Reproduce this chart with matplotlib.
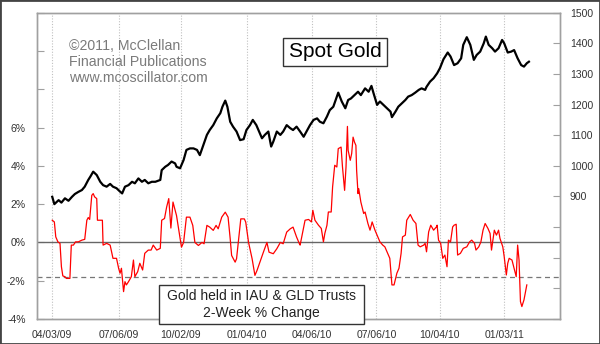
import numpy as np
import matplotlib
matplotlib.use('Agg')
import matplotlib.pyplot as plt
import matplotlib.dates as mdates
from matplotlib.patches import Rectangle
from matplotlib.ticker import FuncFormatter, MultipleLocator

plt.rcParams['font.family'] = ['Liberation Sans', 'DejaVu Sans']

start = np.datetime64('2009-04-03')

gold_days = [0, 3, 9, 13, 18, 23, 28, 32, 37, 42, 46, 51, 54, 58, 63, 68, 72, 77, 82, 86,
             91, 96, 99, 103, 108, 113, 117, 122, 127, 131, 136, 141, 146, 153, 155, 160, 164, 169, 174,
             176, 181, 186, 190, 195, 200, 205, 209, 214, 219, 223, 228, 233, 238, 241, 245, 248, 252,
             256, 261, 266, 271, 275, 280, 284, 289, 292, 297, 301, 306, 310, 313, 318, 323, 327, 332,
             337, 341, 346, 351, 356, 360, 365, 370, 375, 379, 384, 389, 393, 398, 403, 405, 410, 415,
             419, 423, 428, 433, 437, 443, 448, 452, 455, 460, 464, 469, 474, 479, 481, 486, 490, 495,
             500, 504, 509, 514, 519, 523, 528, 530, 535, 540, 545, 549, 554, 560, 564, 569, 574, 579,
             582, 587, 592, 597, 601, 606, 611, 614, 618, 623, 627, 632, 637, 640, 645, 650, 654, 659,
             664, 668, 672, 675]
gold_price = [899, 875, 888, 880, 894, 886, 899, 908, 915, 921, 932, 954, 965, 981, 970, 948, 937, 932, 941, 932,
              927, 916, 910, 932, 937, 948, 943, 959, 948, 954, 943, 948, 948, 954, 986, 997, 1003, 1014, 1008,
              997, 992, 1019, 1052, 1057, 1057, 1052, 1035, 1068, 1101, 1117, 1133, 1155, 1172, 1193, 1213, 1193, 1144,
              1128, 1112, 1084, 1087, 1117, 1133, 1150, 1133, 1117, 1090, 1101, 1112, 1063, 1079, 1112, 1101, 1112, 1133,
              1123, 1117, 1128, 1112, 1095, 1112, 1133, 1150, 1155, 1144, 1139, 1161, 1182, 1193, 1226, 1239, 1210, 1188,
              1215, 1220, 1231, 1242, 1231, 1253, 1242, 1261, 1237, 1199, 1210, 1199, 1188, 1177, 1159, 1177, 1193, 1204,
              1215, 1226, 1231, 1239, 1248, 1253, 1248, 1258, 1275, 1286, 1302, 1319, 1348, 1370, 1357, 1329, 1335, 1351,
              1395, 1420, 1395, 1346, 1362, 1373, 1400, 1422, 1395, 1384, 1373, 1384, 1411, 1400, 1370, 1373, 1378, 1351,
              1329, 1324, 1335, 1340]

flow_days = [0, 3, 5, 8, 11, 13, 15, 18, 20, 25, 27, 30, 33, 37, 42, 46, 49, 51, 53, 56,
             58, 60, 63, 64, 71, 72, 77, 82, 84, 86, 91, 94, 96, 98, 101, 103, 105, 108, 112, 115,
             117, 121, 124, 128, 131, 136, 140, 143, 148, 153, 155, 159, 162, 165, 168, 171, 176, 183, 186, 190,
             195, 199, 202, 207, 212, 215, 219, 223, 228, 232, 235, 240, 245, 249, 252, 254, 259, 261, 264, 267,
             272, 274, 278, 283, 287, 290, 294, 299, 304, 307, 313, 318, 323, 327, 332, 337, 341, 346, 350, 351,
             358, 363, 367, 369, 372, 377, 381, 384, 386, 389, 391, 395, 397, 400, 403, 405, 409, 411, 414, 416,
             418, 419, 422, 424, 426, 428, 430, 431, 433, 434, 437, 441, 443, 447, 450, 453, 457, 461, 464, 468,
             471, 475, 478, 481, 484, 488, 491, 494, 496, 500, 502, 507, 511, 515, 518, 521, 526, 528, 530, 533,
             536, 540, 544, 545, 547, 550, 553, 556, 559, 561, 564, 567, 569, 572, 574, 578, 582, 587, 591, 594,
             598, 600, 604, 607, 610, 613, 617, 620, 622, 626, 629, 632, 634, 638, 640, 643, 645, 647, 651, 654,
             657, 659, 661, 663, 665, 668, 672]
flow_pct = [1.16, 1.07, 0.29, 0.03, -0.05, -1.27, -1.75, -1.79, -1.88, -1.88, -0.14, -0.14, 0.03, 0.03, 0.12, 0.16, 1.16, 1.30, 1.20, 2.46,
            2.55, 2.38, 2.29, 1.16, 1.16, -0.14, -0.05, -0.14, -0.49, -0.83, -0.83, -1.35, -1.61, -1.35, -2.57, -2.05, -2.22, -2.05, -1.79, -0.92,
            -1.79, -1.53, -1.09, -1.44, -0.57, -0.40, -0.40, -0.14, -0.40, -0.31, 1.16, 1.25, 1.85, 2.29, 0.75, 2.11, 1.40, -0.25, 0.00, 1.32,
            1.32, 0.89, 0.00, -0.16, 0.00, -0.07, 0.89, 0.80, 0.63, 0.89, 0.71, 1.32, 1.58, 1.32, 0.19, -0.68, -1.03, -0.85, 0.19, 1.23,
            1.23, 1.06, 0.00, -0.85, -1.72, -1.46, -1.03, -0.51, 0.00, -0.51, -0.59, -0.33, 0.00, -0.07, 0.54, 0.71, 0.80, 0.28, -0.07, -0.14,
            1.16, 1.20, 1.07, 1.68, 1.16, 0.90, 0.73, 0.03, 0.47, 0.90, 1.59, 1.59, 2.90, 4.03, 3.94, 4.90, 4.98, 3.94, 2.72, 3.94,
            6.06, 4.81, 4.29, 4.64, 5.50, 5.24, 5.07, 3.77, 2.55, 2.81, 2.11, 1.51, 1.59, 0.99, 0.64, 1.07, 0.64, 0.29, 0.03, -0.14,
            -0.23, -0.57, -0.83, -2.22, -2.22, -1.61, -1.35, -0.57, 0.29, 0.38, 1.16, 1.46, 1.16, 0.99, -0.14, -0.23, -0.14, -0.05, -0.49, 0.55,
            0.90, 0.64, 0.81, 0.90, 0.12, -0.05, -0.83, -0.66, -1.27, 0.12, 0.03, 0.81, 0.90, 0.95, -0.66, -0.57, -0.31, -0.23, 0.03, 0.12,
            -0.05, -0.40, -0.23, 0.03, 0.64, 0.99, 0.73, 0.47, -0.40, 0.64, 0.38, 0.64, 0.21, -0.23, -0.75, -1.70, -1.09, -0.83, -0.92, -1.35,
            -1.79, -0.14, -0.92, -3.09, -3.35, -3.00, -2.22]

tick_dates = ['2009-04-03', '2009-07-06', '2009-10-02', '2010-01-04',
              '2010-04-06', '2010-07-06', '2010-10-04', '2011-01-03']
tick_labels = ['04/03/09', '07/06/09', '10/02/09', '01/04/10',
               '04/06/10', '07/06/10', '10/04/10', '01/03/11']
threshold = -1.82

gold_dates = start + np.array(gold_days).astype('timedelta64[D]')
flow_dates = start + np.array(flow_days).astype('timedelta64[D]')
tdates = np.array(tick_dates, dtype='datetime64[D]')

W, H = 600, 344
fig = plt.figure(figsize=(W / 100, H / 100), dpi=100)
L, R, T, B = 36.7, 560, 12.7, 319
ax = fig.add_axes([L / W, (H - B) / H, (R - L) / W, (B - T) / H])
ax2 = ax.twinx()

spine_c = '#a0a0a0'
txt_c = '#333333'

# left axis: percent
ax.plot(flow_dates, flow_pct, color='#ff0000', lw=0.9, zorder=3)
ax.axhline(0, color='#666666', lw=1.0, zorder=2)
ax.axhline(threshold, color='#777777', lw=0.9, ls=(0, (4, 3)), zorder=2)
ax.set_ylim(-4, 12)
ax.yaxis.set_major_locator(MultipleLocator(2))
ax.yaxis.set_major_formatter(FuncFormatter(lambda v, p: f'{int(round(v))}%' if v <= 6.5 else ''))
ax.tick_params(axis='y', direction='in', length=5, color=spine_c, labelsize=7.5, labelcolor=txt_c, pad=8)

xmin = start + np.timedelta64(-22, 'D')
xmax = start + np.timedelta64(719, 'D')
ax.set_xlim(xmin, xmax)
ax.set_xticks(tdates)
ax.set_xticklabels(tick_labels)
ax.tick_params(axis='x', length=0, labelsize=7.5, labelcolor=txt_c, pad=8)
for d in tdates:
    ax.axvline(d, color='#c0c0c0', lw=0.8, ls=(0, (1, 1.5)), zorder=1)

# right axis: gold price
ax2.plot(gold_dates, gold_price, color='black', lw=1.6, zorder=3)
ax2.set_ylim(500, 1500)
ax2.yaxis.set_major_locator(MultipleLocator(100))
ax2.yaxis.set_major_formatter(FuncFormatter(lambda v, p: f'{int(round(v))}' if v >= 850 else ''))
ax2.tick_params(axis='y', direction='in', length=5, color=spine_c, labelsize=7.5, labelcolor=txt_c, pad=7)
ax2.set_xlim(xmin, xmax)

for a in (ax, ax2):
    for s in a.spines.values():
        s.set_color(spine_c)
        s.set_linewidth(1.0)

# annotation texts
fig.text(69 / W, 1 - 39 / H, '\u00a92011, McClellan\nFinancial Publications\nwww.mcoscillator.com',
         color='#7a7a7a', fontsize=10.2, ha='left', va='top', linespacing=1.18)

bx0, by0, bx1, by1 = 282.7, 37.7, 387.3, 65.7
fig.patches.append(Rectangle((bx0 / W, 1 - by1 / H), (bx1 - bx0) / W, (by1 - by0) / H,
                             transform=fig.transFigure, facecolor='white', edgecolor='#333333', lw=1.0))
fig.text((bx0 + bx1) / 2 / W, 1 - (by0 + by1) / 2 / H, 'Spot Gold', fontsize=15,
         color='black', ha='center', va='center')

lx0, ly0, lx1, ly1 = 159.3, 285.3, 364, 323.7
fig.patches.append(Rectangle((lx0 / W, 1 - ly1 / H), (lx1 - lx0) / W, (ly1 - ly0) / H,
                             transform=fig.transFigure, facecolor='white', edgecolor='#333333', lw=1.0))
fig.text((lx0 + lx1) / 2 / W, 1 - 296 / H, 'Gold held in IAU & GLD Trusts', fontsize=10,
         color='#222222', ha='center', va='center')
fig.text((lx0 + lx1) / 2 / W, 1 - 313.5 / H, '2-Week % Change', fontsize=10,
         color='#222222', ha='center', va='center')

# outer frame
fig.patches.append(Rectangle((0, 0), 1, 1, transform=fig.transFigure, fill=False,
                             edgecolor='#444444', lw=2.0))

fig.savefig('out.png', dpi=100)
